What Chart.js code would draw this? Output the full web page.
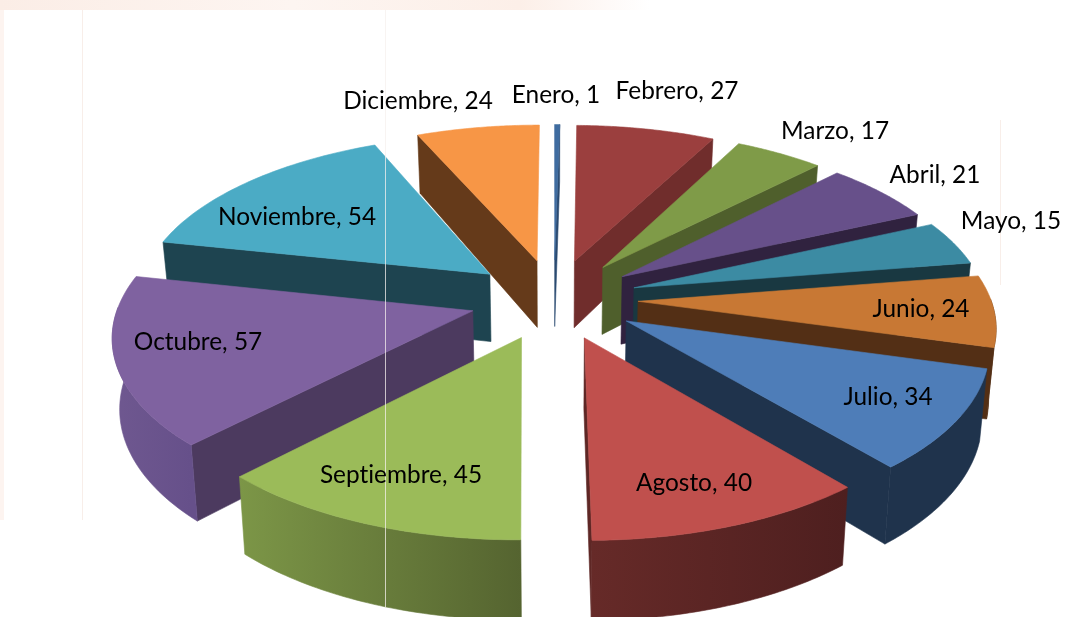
<!DOCTYPE html>
<html lang="es">
<head>
<meta charset="utf-8">
<title>Meses</title>
<script src="https://cdn.jsdelivr.net/npm/chart.js@4/dist/chart.umd.min.js"></script>
<style>
  html, body { margin: 0; padding: 0; background: #fff; overflow: hidden; }
  #wrap { width: 1065px; height: 617px; }
</style>
</head>
<body>
<div id="wrap"><canvas id="grafica" width="1065" height="617"></canvas></div>
<script>
const meses   = ['Enero','Febrero','Marzo','Abril','Mayo','Junio','Julio','Agosto','Septiembre','Octubre','Noviembre','Diciembre'];
const valores = [1, 27, 17, 21, 15, 24, 34, 40, 45, 57, 54, 24];

// colores de la cara superior y de las paredes
const colorTapa   = ['#3F6CA0','#9B3F3E','#7F9B48','#67508A','#3C8BA3','#C87834','#4E7DB8','#C0504D','#9BBB59','#7F62A0','#4BABC5','#F79646'];
const colorPared  = ['#2A4A70','#702D2C','#4F5F2C','#30223F','#193841','#532F15','#1F334C','#5E2725','#556430','#4C3A5F','#1E4450','#653A1A'];
const paredDesde  = ['#2A4A70','#702D2C','#4F5F2C','#30223F','#193841','#532F15','#1F334C','#662A28','#7C9647','#6F5890','#1E4450','#653A1A'];
const paredHasta  = ['#2A4A70','#702D2C','#4F5F2C','#30223F','#193841','#532F15','#1F334C','#4E1F1F','#556430','#66508A','#1E4450','#653A1A'];

// centro de cada etiqueta en la imagen
const posEtiqueta = [[556,95],[677,91],[835,131],[935,175],[1011,221],[921,309],[888,397],[694,483],[401,475],[198,342],[297,217],[418,101]];

// parámetros de la perspectiva
const ESCALA_RADIO = 1.235, SEPARACION = 88, INCLINACION = 0.48, ALTO = 72;

function proyectar(c, X, f, z) {
  const s = 0.955 + 0.00035 * f;
  return [c.x + X * s * (1 - 0.017 * z), c.y + f * INCLINACION * s + z * ALTO * s];
}

function poligono(ctx, pts) {
  ctx.beginPath();
  pts.forEach((p, i) => i ? ctx.lineTo(p[0], p[1]) : ctx.moveTo(p[0], p[1]));
  ctx.closePath();
}

function rellenar(ctx, pts, color) {
  poligono(ctx, pts);
  ctx.fillStyle = color;
  ctx.strokeStyle = color;
  ctx.lineWidth = 0.6;
  ctx.fill();
  ctx.stroke();
}

function dibujarPorcion(ctx, arc, i) {
  const R = arc.outerRadius * ESCALA_RADIO;
  const a0 = arc.startAngle, a1 = arc.endAngle, med = (a0 + a1) / 2;
  const ox = Math.cos(med) * SEPARACION, of = Math.sin(med) * SEPARACION;
  const borde = (a, z) => proyectar(arc, ox + R * Math.cos(a), of + R * Math.sin(a), z);
  const vertice = z => proyectar(arc, ox, of, z);

  // paredes radiales visibles
  if (Math.cos(a0) < 0) rellenar(ctx, [vertice(0), borde(a0, 0), borde(a0, 1), vertice(1)], colorPared[i]);
  if (Math.cos(a1) > 0) rellenar(ctx, [vertice(0), borde(a1, 0), borde(a1, 1), vertice(1)], colorPared[i]);

  // pared exterior (solo la parte que mira al frente)
  const arriba = [], abajo = [];
  const pasos = 48;
  for (let k = 0; k <= pasos; k++) {
    const a = a0 + (a1 - a0) * k / pasos;
    if (Math.sin(a) > -0.02) { arriba.push(borde(a, 0)); abajo.unshift(borde(a, 1)); }
  }
  if (arriba.length > 1) {
    const xs = arriba.map(p => p[0]);
    const g = ctx.createLinearGradient(Math.min(...xs), 0, Math.max(...xs), 0);
    g.addColorStop(0, paredDesde[i]);
    g.addColorStop(1, paredHasta[i]);
    rellenar(ctx, arriba.concat(abajo), g);
  }

  // tapa
  const tapa = [vertice(0)];
  for (let k = 0; k <= pasos; k++) tapa.push(borde(a0 + (a1 - a0) * k / pasos, 0));
  rellenar(ctx, tapa, arc.options.backgroundColor);
}

const fondoImagen = {
  id: 'fondoImagen',
  beforeDraw(chart) {
    const { ctx, width, height } = chart;
    ctx.save();
    ctx.fillStyle = '#fff';
    ctx.fillRect(0, 0, width, height);
    const g = ctx.createLinearGradient(0, 0, 650, 0);
    g.addColorStop(0, '#FBEDE6');
    g.addColorStop(0.45, '#FDF5F1');
    g.addColorStop(0.8, '#FCEFE8');
    g.addColorStop(1, '#FFFFFF');
    ctx.fillStyle = g;
    ctx.fillRect(0, 0, 650, 10);
    ctx.fillStyle = '#FDF4F0';
    ctx.fillRect(0, 10, 4, 510);
    ctx.fillStyle = '#F8EEE9';
    ctx.fillRect(82, 10, 1, 510);
    ctx.fillRect(1000, 120, 1, 165);
    ctx.restore();
  }
};

const pastel3d = {
  id: 'pastel3d',
  beforeDatasetsDraw(chart) {
    const { ctx } = chart;
    const arcos = chart.getDatasetMeta(0).data;
    // de atrás hacia delante
    const orden = arcos.map((a, i) => i).sort((p, q) =>
      Math.sin((arcos[p].startAngle + arcos[p].endAngle) / 2) - Math.sin((arcos[q].startAngle + arcos[q].endAngle) / 2));
    ctx.save();
    orden.forEach(i => dibujarPorcion(ctx, arcos[i], i));
    // línea clara vertical de la imagen original
    ctx.fillStyle = 'rgba(245,240,238,0.75)';
    ctx.fillRect(385, 10, 1, 597);
    ctx.fillStyle = '#000';
    ctx.font = '24.4px Lato';
    ctx.letterSpacing = '0.01px'; // sin ligaduras
    ctx.textAlign = 'center';
    ctx.textBaseline = 'middle';
    meses.forEach((m, i) => ctx.fillText(`${m}, ${valores[i]}`, posEtiqueta[i][0], posEtiqueta[i][1]));
    ctx.restore();
    return false;
  }
};

new Chart(document.getElementById('grafica'), {
  type: 'pie',
  data: { labels: meses, datasets: [{ data: valores, backgroundColor: colorTapa, borderWidth: 0 }] },
  options: {
    responsive: false,
    animation: false,
    layout: { padding: { left: 43, bottom: 19 } },
    plugins: { legend: { display: false }, tooltip: { enabled: false } }
  },
  plugins: [fondoImagen, pastel3d]
});
</script>
</body>
</html>
